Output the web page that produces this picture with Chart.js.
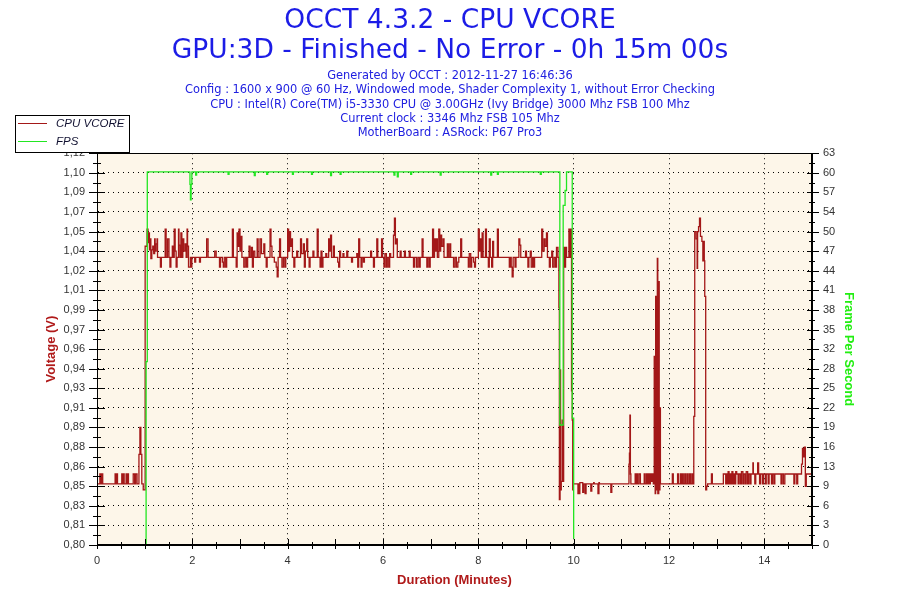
<!DOCTYPE html>
<html>
<head>
<meta charset="utf-8">
<title>OCCT 4.3.2 - CPU VCORE</title>
<script src="https://cdn.jsdelivr.net/npm/chart.js@4.4.0/dist/chart.umd.min.js"></script>
<style>
    html, body { margin: 0; padding: 0; background: #ffffff; }
    #contenedor { width: 900px; height: 600px; }
</style>
</head>
<body>
<div id="contenedor"><canvas id="graficoVcore"></canvas></div>
<script>
// Textos del encabezado
var tituloLineas = ['OCCT 4.3.2 - CPU VCORE', 'GPU:3D - Finished - No Error - 0h 15m 00s'];
var subtituloLineas = [
    'Generated by OCCT : 2012-11-27 16:46:36',
    'Config : 1600 x 900 @ 60 Hz, Windowed mode, Shader Complexity 1, without Error Checking',
    'CPU : Intel(R) Core(TM) i5-3330 CPU @ 3.00GHz (Ivy Bridge) 3000 Mhz FSB 100 Mhz',
    'Current clock : 3346 Mhz FSB 105 Mhz',
    'MotherBoard : ASRock: P67 Pro3'
];

// Etiquetas de los ejes
var etiquetasVoltaje = ['0,80', '0,81', '0,83', '0,85', '0,86', '0,88', '0,89', '0,91', '0,93', '0,94', '0,96',
    '0,97', '0,99', '1,01', '1,02', '1,04', '1,05', '1,07', '1,09', '1,10', '1,12'];
var etiquetasFps = ['0', '3', '6', '9', '13', '16', '19', '22', '25', '28', '32', '35', '38', '41', '44', '47',
    '50', '54', '57', '60', '63'];
var etiquetasMinutos = ['0', '2', '4', '6', '8', '10', '12', '14'];

// Series: [minuto, valor]
var muestrasVcore = [
    [0.00, 0.850], [0.06, 0.858], [0.08, 0.850], [0.10, 0.858], [0.12, 0.850], [0.38, 0.858], [0.40, 0.850],
    [0.41, 0.858], [0.43, 0.850], [0.52, 0.858], [0.54, 0.850], [0.55, 0.858], [0.57, 0.850], [0.61, 0.858],
    [0.63, 0.850], [0.64, 0.858], [0.66, 0.850], [0.76, 0.858], [0.79, 0.850], [0.81, 0.858], [0.84, 0.850],
    [0.88, 0.874], [0.90, 0.896], [0.92, 0.874], [0.94, 0.850], [0.97, 0.845], [1.01, 1.044], [1.05, 1.058],
    [1.07, 1.047], [1.08, 1.055], [1.10, 1.041], [1.12, 1.050], [1.13, 1.034], [1.15, 1.041], [1.17, 1.044],
    [1.19, 1.038], [1.21, 1.050], [1.22, 1.040], [1.24, 1.046], [1.26, 1.050], [1.27, 1.035], [1.33, 1.027],
    [1.35, 1.035], [1.43, 1.058], [1.45, 1.035], [1.48, 1.050], [1.51, 1.035], [1.53, 1.027], [1.55, 1.035],
    [1.58, 1.044], [1.60, 1.035], [1.62, 1.058], [1.64, 1.040], [1.66, 1.027], [1.68, 1.035], [1.71, 1.058],
    [1.72, 1.045], [1.74, 1.035], [1.76, 1.055], [1.78, 1.035], [1.80, 1.050], [1.82, 1.040], [1.85, 1.046],
    [1.87, 1.035], [1.89, 1.058], [1.90, 1.044], [1.92, 1.027], [1.96, 1.035], [1.98, 1.027], [1.99, 1.035],
    [2.05, 1.031], [2.07, 1.035], [2.15, 1.031], [2.17, 1.035], [2.30, 1.050], [2.33, 1.035], [2.47, 1.040],
    [2.50, 1.035], [2.57, 1.027], [2.59, 1.035], [2.63, 1.031], [2.65, 1.027], [2.67, 1.035], [2.70, 1.027],
    [2.72, 1.035], [2.84, 1.058], [2.86, 1.035], [2.92, 1.027], [2.94, 1.055], [2.96, 1.044], [2.98, 1.058],
    [3.00, 1.040], [3.02, 1.052], [3.04, 1.035], [3.08, 1.027], [3.11, 1.035], [3.14, 1.027], [3.16, 1.035],
    [3.19, 1.044], [3.21, 1.035], [3.24, 1.043], [3.26, 1.027], [3.28, 1.040], [3.31, 1.035], [3.36, 1.050],
    [3.38, 1.035], [3.42, 1.050], [3.45, 1.038], [3.50, 1.046], [3.52, 1.035], [3.55, 1.027], [3.57, 1.035],
    [3.63, 1.058], [3.65, 1.044], [3.67, 1.035], [3.72, 1.031], [3.76, 1.027], [3.78, 1.019], [3.80, 1.035],
    [3.83, 1.050], [3.85, 1.035], [3.88, 1.027], [3.91, 1.035], [3.94, 1.027], [3.96, 1.035], [4.00, 1.058],
    [4.02, 1.040], [4.04, 1.056], [4.06, 1.044], [4.08, 1.050], [4.10, 1.035], [4.13, 1.027], [4.15, 1.035],
    [4.19, 1.040], [4.21, 1.035], [4.27, 1.050], [4.29, 1.038], [4.33, 1.046], [4.35, 1.027], [4.37, 1.040],
    [4.40, 1.050], [4.42, 1.035], [4.45, 1.027], [4.47, 1.035], [4.53, 1.040], [4.55, 1.035], [4.62, 1.058],
    [4.64, 1.035], [4.68, 1.027], [4.70, 1.040], [4.72, 1.027], [4.74, 1.035], [4.80, 1.038], [4.82, 1.035],
    [4.86, 1.050], [4.88, 1.040], [4.90, 1.053], [4.92, 1.035], [4.96, 1.044], [4.98, 1.035], [5.05, 1.031],
    [5.07, 1.027], [5.09, 1.040], [5.11, 1.035], [5.16, 1.038], [5.18, 1.035], [5.24, 1.040], [5.26, 1.035],
    [5.34, 1.031], [5.36, 1.035], [5.45, 1.038], [5.47, 1.027], [5.49, 1.050], [5.51, 1.035], [5.54, 1.027],
    [5.56, 1.035], [5.59, 1.031], [5.61, 1.035], [5.74, 1.040], [5.76, 1.035], [5.80, 1.027], [5.82, 1.035],
    [5.87, 1.050], [5.89, 1.035], [5.97, 1.050], [5.99, 1.035], [6.02, 1.027], [6.04, 1.038], [6.07, 1.027],
    [6.09, 1.035], [6.12, 1.027], [6.14, 1.038], [6.16, 1.035], [6.22, 1.053], [6.24, 1.067], [6.26, 1.046],
    [6.28, 1.050], [6.30, 1.035], [6.36, 1.040], [6.38, 1.035], [6.45, 1.040], [6.47, 1.035], [6.55, 1.040],
    [6.57, 1.035], [6.64, 1.027], [6.66, 1.035], [6.70, 1.027], [6.73, 1.035], [6.76, 1.027], [6.78, 1.035],
    [6.82, 1.050], [6.84, 1.035], [6.92, 1.027], [6.94, 1.035], [6.97, 1.027], [6.99, 1.035], [7.04, 1.058],
    [7.06, 1.035], [7.08, 1.050], [7.10, 1.040], [7.12, 1.050], [7.14, 1.035], [7.17, 1.058], [7.19, 1.040],
    [7.21, 1.053], [7.23, 1.044], [7.26, 1.050], [7.28, 1.035], [7.35, 1.046], [7.37, 1.035], [7.40, 1.046],
    [7.42, 1.035], [7.48, 1.027], [7.51, 1.035], [7.54, 1.027], [7.57, 1.031], [7.59, 1.035], [7.63, 1.050],
    [7.65, 1.035], [7.79, 1.027], [7.81, 1.038], [7.84, 1.027], [7.86, 1.035], [7.90, 1.031], [7.92, 1.027],
    [7.94, 1.035], [8.00, 1.058], [8.02, 1.040], [8.04, 1.050], [8.06, 1.035], [8.08, 1.055], [8.10, 1.035],
    [8.15, 1.058], [8.17, 1.035], [8.21, 1.027], [8.23, 1.050], [8.25, 1.035], [8.28, 1.027], [8.30, 1.048],
    [8.32, 1.035], [8.40, 1.058], [8.42, 1.035], [8.65, 1.027], [8.67, 1.035], [8.69, 1.027], [8.71, 1.019],
    [8.73, 1.035], [8.77, 1.027], [8.79, 1.035], [8.85, 1.050], [8.87, 1.045], [8.89, 1.035], [8.99, 1.040],
    [9.01, 1.035], [9.04, 1.027], [9.06, 1.035], [9.09, 1.040], [9.11, 1.027], [9.14, 1.035], [9.16, 1.027],
    [9.18, 1.035], [9.33, 1.058], [9.35, 1.040], [9.38, 1.050], [9.40, 1.044], [9.43, 1.055], [9.45, 1.035],
    [9.49, 1.027], [9.51, 1.035], [9.54, 1.040], [9.56, 1.027], [9.59, 1.035], [9.62, 1.027], [9.64, 1.043],
    [9.67, 1.035], [9.69, 0.994], [9.70, 0.837], [9.715, 0.943], [9.725, 0.845], [9.74, 0.852], [9.76, 0.902],
    [9.775, 0.852], [9.79, 1.043], [9.81, 1.027], [9.83, 1.043], [9.85, 1.035], [9.90, 1.058], [9.92, 1.035],
    [9.94, 1.058], [9.955, 0.926], [9.97, 0.902], [9.98, 0.845], [9.99, 0.850], [10.09, 0.842], [10.11, 0.850],
    [10.12, 0.842], [10.13, 0.851], [10.19, 0.843], [10.21, 0.850], [10.24, 0.842], [10.26, 0.850],
    [10.36, 0.844], [10.38, 0.850], [10.42, 0.851], [10.43, 0.850], [10.51, 0.842], [10.53, 0.851],
    [10.54, 0.850], [10.78, 0.843], [10.80, 0.850], [11.16, 0.866], [11.17, 0.875], [11.18, 0.906],
    [11.19, 0.858], [11.20, 0.850], [11.29, 0.858], [11.31, 0.850], [11.33, 0.858], [11.34, 0.850],
    [11.37, 0.858], [11.40, 0.850], [11.48, 0.858], [11.50, 0.850], [11.53, 0.858], [11.55, 0.850],
    [11.57, 0.858], [11.59, 0.850], [11.61, 0.858], [11.63, 0.852], [11.65, 0.858], [11.67, 0.850],
    [11.69, 0.954], [11.70, 0.940], [11.71, 0.842], [11.72, 1.003], [11.73, 0.845], [11.755, 1.034],
    [11.765, 0.842], [11.785, 1.015], [11.795, 0.845], [11.81, 0.912], [11.82, 0.850], [12.07, 0.858],
    [12.09, 0.850], [12.18, 0.858], [12.20, 0.850], [12.24, 0.858], [12.26, 0.850], [12.28, 0.858],
    [12.30, 0.850], [12.33, 0.858], [12.35, 0.850], [12.38, 0.858], [12.40, 0.850], [12.43, 0.858],
    [12.45, 0.850], [12.48, 0.858], [12.50, 0.850], [12.52, 0.905], [12.54, 1.056], [12.57, 1.050],
    [12.59, 1.026], [12.60, 1.056], [12.62, 1.060], [12.64, 1.067], [12.66, 1.052], [12.69, 1.048],
    [12.71, 1.032], [12.72, 1.048], [12.74, 1.032], [12.75, 1.003], [12.77, 0.845], [12.79, 0.848],
    [12.81, 0.850], [12.89, 0.858], [12.91, 0.850], [13.14, 0.858], [13.19, 0.850], [13.20, 0.858],
    [13.22, 0.850], [13.24, 0.860], [13.26, 0.850], [13.28, 0.858], [13.30, 0.850], [13.32, 0.860],
    [13.34, 0.850], [13.36, 0.858], [13.38, 0.850], [13.40, 0.860], [13.42, 0.858], [13.45, 0.850],
    [13.47, 0.858], [13.50, 0.850], [13.52, 0.860], [13.55, 0.850], [13.57, 0.858], [13.60, 0.850],
    [13.62, 0.860], [13.65, 0.850], [13.67, 0.858], [13.70, 0.850], [13.72, 0.858], [13.76, 0.867],
    [13.77, 0.858], [13.80, 0.850], [13.82, 0.858], [13.86, 0.867], [13.88, 0.858], [13.90, 0.850],
    [13.92, 0.858], [13.96, 0.850], [13.98, 0.858], [14.02, 0.850], [14.04, 0.858], [14.08, 0.850],
    [14.10, 0.858], [14.15, 0.850], [14.17, 0.858], [14.20, 0.850], [14.22, 0.858], [14.35, 0.850],
    [14.37, 0.858], [14.40, 0.850], [14.43, 0.858], [14.62, 0.850], [14.64, 0.858], [14.68, 0.850],
    [14.70, 0.858], [14.78, 0.866], [14.80, 0.879], [14.82, 0.872], [14.84, 0.880], [14.86, 0.848],
    [14.88, 0.858], [15.00, 0.858]
];

var muestrasFps = [
    [0.00, 0], [1.03, 29.5], [1.055, 60], [1.95, 58], [1.96, 55.5], [1.975, 58], [1.99, 60],
    [2.07, 59.5], [2.09, 60], [2.75, 59.6], [2.77, 60], [3.30, 59.4], [3.32, 60], [3.56, 59.6], [3.58, 60],
    [4.10, 59.6], [4.12, 60], [4.50, 59.6], [4.52, 60], [4.90, 59.4], [4.92, 60], [5.10, 59.6], [5.12, 60],
    [6.23, 59.5], [6.25, 60], [6.30, 59.2], [6.32, 60], [6.58, 59.6], [6.60, 60], [7.20, 59.5], [7.22, 60],
    [8.26, 59.5], [8.28, 60], [8.40, 59.6], [8.42, 60], [9.30, 59.6], [9.32, 60], [9.71, 19.3], [9.78, 54.6],
    [9.82, 57], [9.85, 60], [9.97, 20.4], [10.00, 1]
];

var rojoVcore = '#a31818';
var verdeFps = '#22e622';

function aPuntos(muestras) {
    return muestras.map(function(m) { return { x: m[0], y: m[1] }; });
}

// Marcas de ejes, fondo del area, borde y leyenda
var adornos = {
    id: 'adornos',
    beforeDraw: function(chart) {
        var a = chart.chartArea, ctx = chart.ctx;
        ctx.save();
        ctx.fillStyle = '#fdf6e9';
        ctx.fillRect(a.left, a.top, a.right - a.left, a.bottom - a.top);
        ctx.restore();
    },
    afterDraw: function(chart) {
        var a = chart.chartArea, ctx = chart.ctx;
        ctx.save();
        ctx.setLineDash([]);
        ctx.strokeStyle = '#000';
        ctx.lineWidth = 1;
        ctx.strokeRect(Math.round(a.left) + 0.5, Math.round(a.top) + 0.5,
            Math.round(a.right - a.left) - 1, Math.round(a.bottom - a.top) - 1);

        var sx = chart.scales.x;
        sx.ticks.forEach(function(t) {
            var px = Math.round(sx.getPixelForValue(t.value)) + 0.5;
            var mayor = Math.abs(t.value % 1) < 1e-9;
            ctx.beginPath();
            ctx.moveTo(px, a.bottom - (mayor ? 6 : 3));
            ctx.lineTo(px, a.bottom + 4);
            ctx.stroke();
        });
        var sy = chart.scales.y;
        sy.ticks.forEach(function(t, i) {
            var py = Math.round(sy.getPixelForValue(t.value)) + 0.5;
            var l = i % 2 === 0 ? 8 : 4;
            ctx.beginPath();
            ctx.moveTo(a.left - l, py);
            ctx.lineTo(a.left + l, py);
            ctx.stroke();
        });
        var sf = chart.scales.yFps;
        sf.ticks.forEach(function(t, i) {
            var py = Math.round(sf.getPixelForValue(t.value)) + 0.5;
            var mayor = i % 2 === 0;
            ctx.beginPath();
            ctx.moveTo(a.right - (mayor ? 5 : 3), py);
            ctx.lineTo(a.right + (mayor ? 7 : 3), py);
            ctx.stroke();
        });

        // leyenda
        ctx.fillStyle = '#fff';
        ctx.fillRect(15, 115, 114, 37);
        ctx.strokeRect(15.5, 115.5, 114, 37);
        ctx.font = 'italic 11.5px "Liberation Sans", Arial, sans-serif';
        ctx.textBaseline = 'middle';
        chart.data.datasets.forEach(function(ds, i) {
            var y = 123.5 + i * 18;
            ctx.strokeStyle = ds.borderColor;
            ctx.beginPath();
            ctx.moveTo(18, y);
            ctx.lineTo(47, y);
            ctx.stroke();
            ctx.fillStyle = '#101030';
            ctx.fillText(ds.label, 56, y);
        });
        ctx.restore();
    }
};

var config = {
    type: 'line',
    data: {
        datasets: [
            {
                label: 'CPU VCORE',
                data: aPuntos(muestrasVcore),
                borderColor: rojoVcore,
                borderWidth: 1.3,
                pointRadius: 0,
                stepped: true,
                yAxisID: 'y',
                order: 1
            },
            {
                label: 'FPS',
                data: aPuntos(muestrasFps),
                borderColor: verdeFps,
                borderWidth: 1.3,
                pointRadius: 0,
                stepped: true,
                yAxisID: 'yFps',
                order: 0
            }
        ]
    },
    options: {
        responsive: true,
        maintainAspectRatio: false,
        animation: false,
        layout: { padding: 0 },
        plugins: {
            legend: { display: false },
            tooltip: { enabled: false },
            title: {
                display: true,
                text: tituloLineas,
                color: '#1c1ce6',
                font: { family: '"DejaVu Sans", Verdana, sans-serif', size: 26.5, weight: 'normal', lineHeight: 1.13 },
                padding: { top: 6, bottom: 0 }
            },
            subtitle: {
                display: true,
                text: subtituloLineas,
                color: '#2020e0',
                font: { family: '"DejaVu Sans", Verdana, sans-serif', size: 11.4, lineHeight: 1.26 },
                padding: { top: 3, bottom: 12.5 }
            }
        },
        scales: {
            x: {
                type: 'linear',
                position: 'bottom',
                min: 0,
                max: 15,
                afterBuildTicks: function(axis) {
                    var marcas = [];
                    for (var i = 0; i <= 30; i++) marcas.push({ value: i * 0.5 });
                    axis.ticks = marcas;
                },
                afterFit: function(axis) { axis.height = 55; },
                ticks: {
                    autoSkip: false,
                    maxRotation: 0,
                    padding: 9,
                    color: '#333',
                    font: { family: '"Liberation Sans", Arial, sans-serif', size: 11 },
                    callback: function(v) {
                        return Math.abs(v % 2) < 1e-9 ? etiquetasMinutos[v / 2] : '';
                    }
                },
                grid: {
                    drawTicks: false,
                    color: function(ctx) {
                        return ctx.tick && Math.abs(ctx.tick.value % 2) < 1e-9 ? '#000' : 'rgba(0,0,0,0)';
                    },
                    lineWidth: 1
                },
                border: { display: true, color: '#000', width: 1, dash: [1, 4] },
                title: {
                    display: true,
                    text: 'Duration (Minutes)',
                    color: '#b01a1a',
                    font: { family: '"Liberation Sans", Arial, sans-serif', size: 13, weight: 'bold' },
                    padding: { top: 0, bottom: 12 }
                }
            },
            y: {
                type: 'linear',
                position: 'left',
                min: 0.80,
                max: 1.12,
                afterBuildTicks: function(axis) {
                    var marcas = [];
                    for (var i = 0; i <= 40; i++) marcas.push({ value: 0.80 + i * 0.008 });
                    axis.ticks = marcas;
                },
                afterFit: function(axis) { axis.width = 97; },
                ticks: {
                    autoSkip: false,
                    padding: 12,
                    color: '#333',
                    font: { family: '"Liberation Sans", Arial, sans-serif', size: 11 },
                    callback: function(v, i) { return i % 2 === 0 ? etiquetasVoltaje[i / 2] : ''; }
                },
                grid: {
                    drawTicks: false,
                    color: function(ctx) { return ctx.index % 2 === 0 ? '#000' : 'rgba(0,0,0,0)'; },
                    lineWidth: 1
                },
                border: { display: true, color: '#000', width: 1, dash: [1, 4] },
                title: {
                    display: true,
                    text: 'Voltage (V)',
                    color: '#b01a1a',
                    font: { family: '"Liberation Sans", Arial, sans-serif', size: 13, weight: 'bold' },
                    padding: { top: 44, bottom: 0 }
                }
            },
            yFps: {
                type: 'linear',
                position: 'right',
                min: 0,
                max: 63,
                afterBuildTicks: function(axis) {
                    var marcas = [];
                    for (var i = 0; i <= 40; i++) marcas.push({ value: i * 1.575 });
                    axis.ticks = marcas;
                },
                afterFit: function(axis) { axis.width = 88; },
                ticks: {
                    autoSkip: false,
                    padding: 11,
                    color: '#333',
                    font: { family: '"Liberation Sans", Arial, sans-serif', size: 11 },
                    callback: function(v, i) { return i % 2 === 0 ? etiquetasFps[i / 2] : ''; }
                },
                grid: { drawOnChartArea: false, drawTicks: false },
                border: { display: true, color: '#000', width: 1 },
                title: {
                    display: true,
                    text: 'Frame Per Second',
                    color: '#22ee11',
                    font: { family: '"Liberation Sans", Arial, sans-serif', size: 13, weight: 'bold' },
                    padding: { top: 44, bottom: 0 }
                }
            }
        }
    },
    plugins: [adornos]
};

document.addEventListener('DOMContentLoaded', function() {
    var ctx = document.getElementById('graficoVcore').getContext('2d');
    new Chart(ctx, config);
});
</script>
</body>
</html>
